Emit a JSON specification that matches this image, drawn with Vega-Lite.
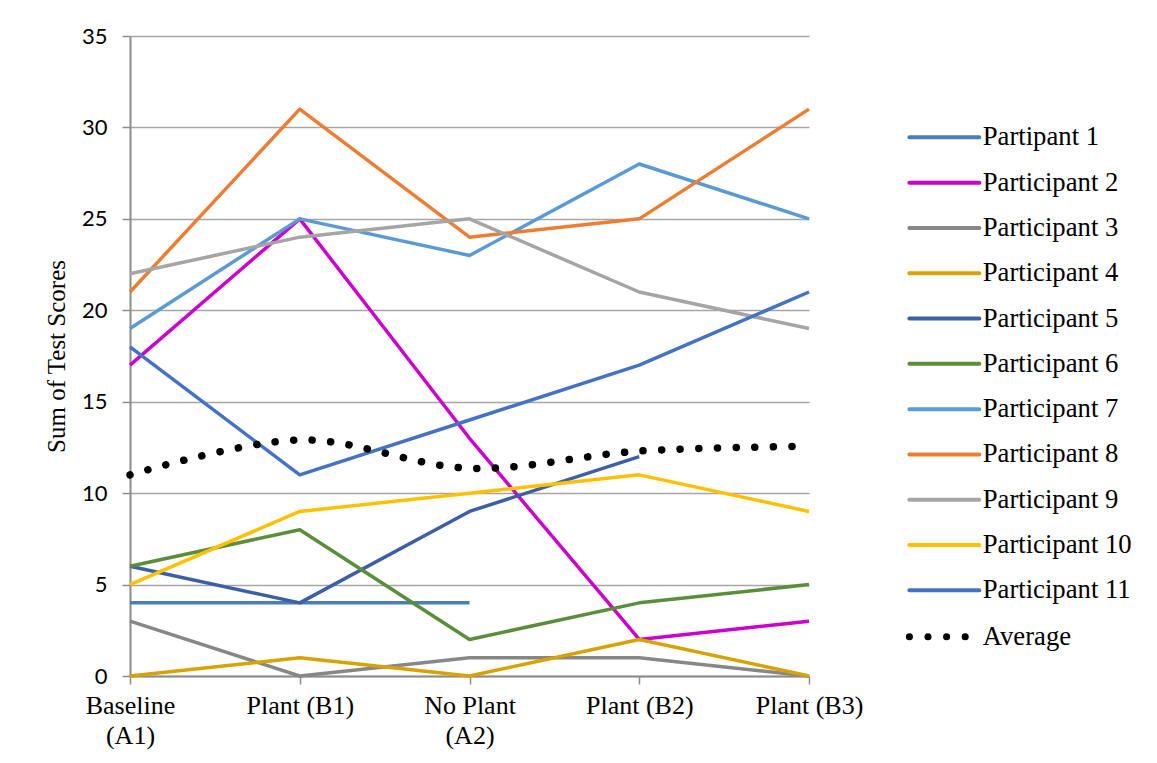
{
  "$schema": "https://vega.github.io/schema/vega-lite/v6.json",
  "width": 679,
  "height": 640,
  "autosize": {"type": "none"},
  "padding": {"left": 130, "top": 36, "right": 348, "bottom": 87},
  "background": "white",
  "config": {
    "view": {"stroke": null},
    "axis": {
      "domainColor": "#8c8c8c",
      "domainWidth": 2,
      "tickColor": "#8c8c8c",
      "tickWidth": 1.5,
      "tickSize": 8,
      "gridColor": "#a6a6a6",
      "gridWidth": 1.5,
      "labelColor": "black",
      "titleColor": "black"
    }
  },
  "data": {
    "values": [
      {"series": "Partipant 1", "phase": "Baseline (A1)", "score": 4},
      {"series": "Partipant 1", "phase": "Plant (B1)", "score": 4},
      {"series": "Partipant 1", "phase": "No Plant (A2)", "score": 4},
      {"series": "Participant 2", "phase": "Baseline (A1)", "score": 17},
      {"series": "Participant 2", "phase": "Plant (B1)", "score": 25},
      {"series": "Participant 2", "phase": "No Plant (A2)", "score": 13},
      {"series": "Participant 2", "phase": "Plant (B2)", "score": 2},
      {"series": "Participant 2", "phase": "Plant (B3)", "score": 3},
      {"series": "Participant 3", "phase": "Baseline (A1)", "score": 3},
      {"series": "Participant 3", "phase": "Plant (B1)", "score": 0},
      {"series": "Participant 3", "phase": "No Plant (A2)", "score": 1},
      {"series": "Participant 3", "phase": "Plant (B2)", "score": 1},
      {"series": "Participant 3", "phase": "Plant (B3)", "score": 0},
      {"series": "Participant 4", "phase": "Baseline (A1)", "score": 0},
      {"series": "Participant 4", "phase": "Plant (B1)", "score": 1},
      {"series": "Participant 4", "phase": "No Plant (A2)", "score": 0},
      {"series": "Participant 4", "phase": "Plant (B2)", "score": 2},
      {"series": "Participant 4", "phase": "Plant (B3)", "score": 0},
      {"series": "Participant 5", "phase": "Baseline (A1)", "score": 6},
      {"series": "Participant 5", "phase": "Plant (B1)", "score": 4},
      {"series": "Participant 5", "phase": "No Plant (A2)", "score": 9},
      {"series": "Participant 5", "phase": "Plant (B2)", "score": 12},
      {"series": "Participant 6", "phase": "Baseline (A1)", "score": 6},
      {"series": "Participant 6", "phase": "Plant (B1)", "score": 8},
      {"series": "Participant 6", "phase": "No Plant (A2)", "score": 2},
      {"series": "Participant 6", "phase": "Plant (B2)", "score": 4},
      {"series": "Participant 6", "phase": "Plant (B3)", "score": 5},
      {"series": "Participant 7", "phase": "Baseline (A1)", "score": 19},
      {"series": "Participant 7", "phase": "Plant (B1)", "score": 25},
      {"series": "Participant 7", "phase": "No Plant (A2)", "score": 23},
      {"series": "Participant 7", "phase": "Plant (B2)", "score": 28},
      {"series": "Participant 7", "phase": "Plant (B3)", "score": 25},
      {"series": "Participant 8", "phase": "Baseline (A1)", "score": 21},
      {"series": "Participant 8", "phase": "Plant (B1)", "score": 31},
      {"series": "Participant 8", "phase": "No Plant (A2)", "score": 24},
      {"series": "Participant 8", "phase": "Plant (B2)", "score": 25},
      {"series": "Participant 8", "phase": "Plant (B3)", "score": 31},
      {"series": "Participant 9", "phase": "Baseline (A1)", "score": 22},
      {"series": "Participant 9", "phase": "Plant (B1)", "score": 24},
      {"series": "Participant 9", "phase": "No Plant (A2)", "score": 25},
      {"series": "Participant 9", "phase": "Plant (B2)", "score": 21},
      {"series": "Participant 9", "phase": "Plant (B3)", "score": 19},
      {"series": "Participant 10", "phase": "Baseline (A1)", "score": 5},
      {"series": "Participant 10", "phase": "Plant (B1)", "score": 9},
      {"series": "Participant 10", "phase": "No Plant (A2)", "score": 10},
      {"series": "Participant 10", "phase": "Plant (B2)", "score": 11},
      {"series": "Participant 10", "phase": "Plant (B3)", "score": 9},
      {"series": "Participant 11", "phase": "Baseline (A1)", "score": 18},
      {"series": "Participant 11", "phase": "Plant (B1)", "score": 11},
      {"series": "Participant 11", "phase": "No Plant (A2)", "score": 14},
      {"series": "Participant 11", "phase": "Plant (B2)", "score": 17},
      {"series": "Participant 11", "phase": "Plant (B3)", "score": 21},
      {"series": "Average", "phase": "Baseline (A1)", "score": 11.0},
      {"series": "Average", "phase": "Plant (B1)", "score": 12.91},
      {"series": "Average", "phase": "No Plant (A2)", "score": 11.36},
      {"series": "Average", "phase": "Plant (B2)", "score": 12.3},
      {"series": "Average", "phase": "Plant (B3)", "score": 12.56}
    ]
  },
  "encoding": {
    "x": {
      "field": "phase",
      "type": "ordinal",
      "sort": ["Baseline (A1)", "Plant (B1)", "No Plant (A2)", "Plant (B2)", "Plant (B3)"],
      "scale": {"type": "point", "padding": 0},
      "axis": {
        "title": null,
        "labelAngle": 0,
        "labelFont": "Liberation Serif",
        "labelFontSize": 26,
        "labelLineHeight": 30,
        "labelPadding": 8,
        "labelBaseline": "top",
        "labelExpr": "datum.label == 'Baseline (A1)' ? ['Baseline', '(A1)'] : datum.label == 'No Plant (A2)' ? ['No Plant', '(A2)'] : datum.label"
      }
    },
    "y": {
      "field": "score",
      "type": "quantitative",
      "scale": {"domain": [0, 35], "nice": false},
      "axis": {
        "title": "Sum of Test Scores",
        "values": [0, 5, 10, 15, 20, 25, 30, 35],
        "labelFont": "Lato",
        "labelFontSize": 22,
        "labelPadding": 15,
        "titleFont": "Liberation Serif",
        "titleFontSize": 25,
        "titleFontWeight": "normal",
        "titlePadding": 12
      }
    },
    "color": {
      "field": "series",
      "type": "nominal",
      "scale": {
        "domain": ["Partipant 1", "Participant 2", "Participant 3", "Participant 4", "Participant 5", "Participant 6", "Participant 7", "Participant 8", "Participant 9", "Participant 10", "Participant 11", "Average"],
        "range": ["#4a7ebb", "#cc00cc", "#878787", "#d6a300", "#3c5fa6", "#5a8e3a", "#5b9bd5", "#ed7d31", "#a5a5a5", "#ffc000", "#4472c4", "#000000"]
      },
      "legend": {
        "title": null,
        "orient": "none",
        "legendX": 801,
        "legendY": 88,
        "padding": 0,
        "symbolType": "M-5,0H5",
        "symbolSize": 196,
        "symbolStrokeWidth": 4,
        "symbolFillColor": "transparent",
        "labelFont": "Liberation Serif",
        "labelFontSize": 26.7,
        "labelColor": "black",
        "labelOffset": 25,
        "labelLimit": 300,
        "rowPadding": 17.3,
        "encode": {
          "symbols": {
            "update": {
              "strokeCap": {"value": "round"},
              "strokeWidth": {"signal": "datum.value == 'Average' ? 7 : 4"},
              "strokeDash": {"signal": "datum.value == 'Average' ? [0.1, 18.5] : [1, 0]"},
              "fill": {"value": "transparent"}
            }
          }
        }
      }
    }
  },
  "layer": [
    {
      "transform": [{"filter": "datum.series != 'Average'"}],
      "mark": {"type": "line", "strokeWidth": 3.5, "strokeJoin": "round"}
    },
    {
      "transform": [{"filter": "datum.series == 'Average'"}],
      "mark": {
        "type": "line",
        "interpolate": "cardinal",
        "strokeWidth": 7.5,
        "strokeCap": "round",
        "strokeDash": [0.1, 18.5]
      }
    }
  ]
}
